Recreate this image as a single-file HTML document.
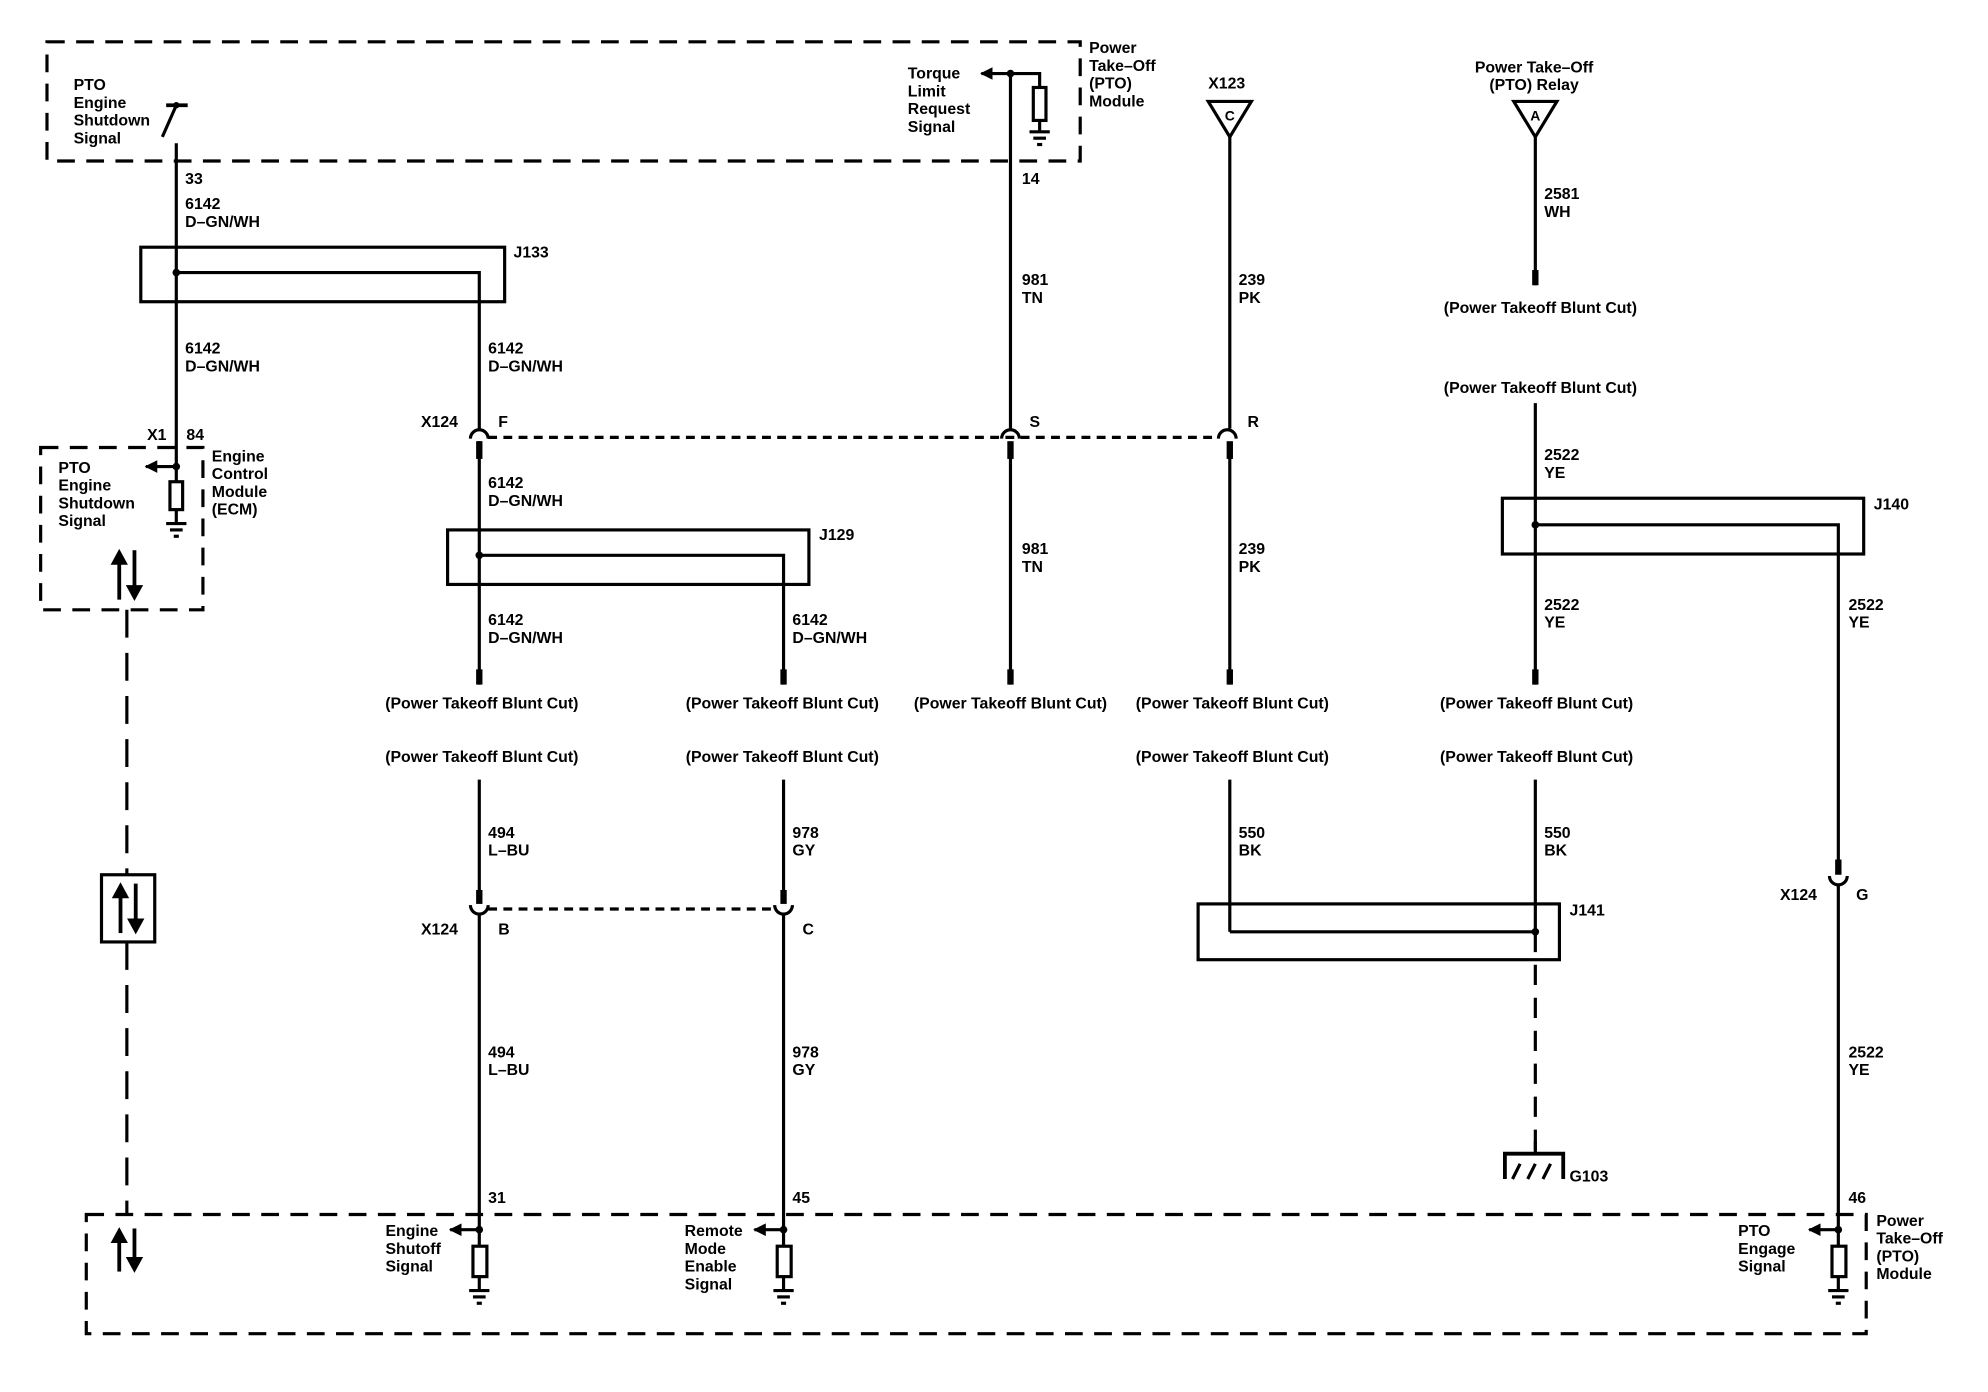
<!DOCTYPE html>
<html><head><meta charset="utf-8"><style>
html,body{margin:0;padding:0;background:#fff;}
svg{display:block;}
text{font-family:"Liberation Sans",Arial,sans-serif;font-size:12.5px;font-weight:bold;fill:#000;}
</style></head><body>
<svg width="1988" height="1392" viewBox="0 0 1568 1098" xmlns="http://www.w3.org/2000/svg">
<defs>
<marker id="ah" markerWidth="12" markerHeight="10" refX="9" refY="5" orient="auto" markerUnits="userSpaceOnUse"><path d="M0,0 L10,5 L0,10 Z" fill="#000"/></marker>
<g id="gnd" stroke="#000" stroke-width="2.5"><line x1="-8" y1="0" x2="8" y2="0"/><line x1="-5" y1="5" x2="5" y2="5"/><line x1="-2" y1="10" x2="2" y2="10"/></g>
</defs>
<g fill="none" stroke="#000" stroke-width="2.5">
<rect x="37" y="33" width="815" height="94" stroke-dasharray="14,9"/>
<rect x="32" y="353" width="128" height="128" stroke-dasharray="14,9"/>
<rect x="68" y="958" width="1404" height="94" stroke-dasharray="14,9"/>
<line x1="100" y1="481" x2="100" y2="690" stroke-dasharray="22,12"/>
<line x1="100" y1="743" x2="100" y2="958" stroke-dasharray="22,12"/>
<rect x="80" y="690" width="42" height="53"/>
<line x1="139" y1="113" x2="139" y2="380"/>
<line x1="131" y1="83" x2="148" y2="83" stroke-width="3"/>
<line x1="139" y1="83" x2="128" y2="108"/>
<rect x="111" y="195" width="287" height="43"/>
<polyline points="139,215 378,215 378,338"/>
<line x1="139" y1="368" x2="115" y2="368" marker-end="url(#ah)"/>
<rect x="134" y="380" width="10" height="22"/>
<line x1="139" y1="402" x2="139" y2="412"/>
<path d="M371,346 A7,7 0 0 1 385,346"/>
<path d="M790,346 A7,7 0 0 1 804,346"/>
<path d="M961,346 A7,7 0 0 1 975,346"/>
<line x1="385" y1="345" x2="961" y2="345" stroke-dasharray="7,5"/>
<line x1="378" y1="348" x2="378" y2="540"/>
<rect x="353" y="418" width="285" height="43"/>
<polyline points="378,438 618,438 618,540"/>
<line x1="797" y1="59" x2="797" y2="338"/>
<line x1="797" y1="350" x2="797" y2="540"/>
<line x1="797" y1="58" x2="774" y2="58" marker-end="url(#ah)"/>
<polyline points="797,58 820,58 820,69"/>
<rect x="815" y="69" width="10" height="26"/>
<line x1="820" y1="95" x2="820" y2="104"/>
<path d="M953,80 L987,80 L970,108 Z"/>
<line x1="970" y1="108" x2="970" y2="338"/>
<line x1="970" y1="350" x2="970" y2="540"/>
<path d="M1194,80 L1228,80 L1211,108 Z"/>
<line x1="1211" y1="108" x2="1211" y2="225"/>
<line x1="1211" y1="318" x2="1211" y2="540"/>
<rect x="1185" y="393" width="285" height="44"/>
<polyline points="1211,414 1450,414 1450,688"/>
<line x1="378" y1="615" x2="378" y2="712"/>
<line x1="618" y1="615" x2="618" y2="712"/>
<path d="M371,714 A7,7 0 0 0 385,714"/>
<path d="M611,714 A7,7 0 0 0 625,714"/>
<line x1="385" y1="717" x2="611" y2="717" stroke-dasharray="7,5"/>
<line x1="378" y1="721" x2="378" y2="983"/>
<line x1="618" y1="721" x2="618" y2="983"/>
<line x1="970" y1="615" x2="970" y2="735"/>
<line x1="1211" y1="615" x2="1211" y2="735"/>
<rect x="945" y="713" width="285" height="44"/>
<line x1="970" y1="735" x2="1211" y2="735"/>
<line x1="1211" y1="735" x2="1211" y2="908" stroke-dasharray="16,10"/>
<polyline points="1187,930 1187,910 1233,910 1233,930" stroke-width="3"/>
<line x1="1211" y1="900" x2="1211" y2="910"/>
<line x1="1193" y1="930" x2="1199" y2="918"/>
<line x1="1205" y1="930" x2="1211" y2="918"/>
<line x1="1217" y1="930" x2="1223" y2="918"/>
<path d="M1443,691 A7,7 0 0 0 1457,691"/>
<line x1="1450" y1="698" x2="1450" y2="983"/>
<line x1="378" y1="970" x2="355" y2="970" marker-end="url(#ah)"/>
<rect x="373" y="983" width="11" height="24"/><line x1="378" y1="1007" x2="378" y2="1018"/>
<line x1="618" y1="970" x2="595" y2="970" marker-end="url(#ah)"/>
<rect x="613" y="983" width="11" height="24"/><line x1="618" y1="1007" x2="618" y2="1018"/>
<line x1="1450" y1="970" x2="1427" y2="970" marker-end="url(#ah)"/>
<rect x="1445" y="983" width="11" height="24"/><line x1="1450" y1="1007" x2="1450" y2="1018"/>
</g>
<use href="#gnd" x="139" y="413"/><use href="#gnd" x="820" y="104"/>
<use href="#gnd" x="378" y="1018"/><use href="#gnd" x="618" y="1018"/><use href="#gnd" x="1450" y="1018"/>
<g stroke="#000" stroke-width="5">
<line x1="378" y1="348" x2="378" y2="362"/><line x1="797" y1="348" x2="797" y2="362"/><line x1="970" y1="348" x2="970" y2="362"/>
<line x1="378" y1="528" x2="378" y2="540"/><line x1="618" y1="528" x2="618" y2="540"/><line x1="797" y1="528" x2="797" y2="540"/><line x1="970" y1="528" x2="970" y2="540"/><line x1="1211" y1="528" x2="1211" y2="540"/>
<line x1="1211" y1="213" x2="1211" y2="225"/>
<line x1="378" y1="702" x2="378" y2="713"/><line x1="618" y1="702" x2="618" y2="713"/><line x1="1450" y1="678" x2="1450" y2="690"/>
</g>
<g fill="#000"><circle cx="139" cy="215" r="3"/><circle cx="378" cy="438" r="3"/><circle cx="1211" cy="414" r="3"/><circle cx="1211" cy="735" r="3"/><circle cx="797" cy="58" r="3"/><circle cx="139" cy="368" r="3"/><circle cx="378" cy="970" r="3"/><circle cx="618" cy="970" r="3"/><circle cx="1450" cy="970" r="3"/><circle cx="139" cy="83" r="2.5"/></g>
<g stroke="#000" stroke-width="3" fill="#000">
<line x1="94" y1="473" x2="94" y2="442"/><path d="M88,445 L94,434 L100,445Z" stroke-width="1"/>
<line x1="106" y1="434" x2="106" y2="465"/><path d="M100,462 L106,473 L112,462Z" stroke-width="1"/>
<line x1="95" y1="736" x2="95" y2="705"/><path d="M89,708 L95,697 L101,708Z" stroke-width="1"/>
<line x1="107" y1="697" x2="107" y2="728"/><path d="M101,725 L107,736 L113,725Z" stroke-width="1"/>
<line x1="94" y1="1003" x2="94" y2="977"/><path d="M88,980 L94,969 L100,980Z" stroke-width="1"/>
<line x1="106" y1="969" x2="106" y2="995"/><path d="M100,992 L106,1003 L112,992Z" stroke-width="1"/>
</g>
<text x="970" y="95" text-anchor="middle" style="font-size:11px">C</text><text x="1211" y="95" text-anchor="middle" style="font-size:11px">A</text>
<text x="58" y="71">PTO</text><text x="58" y="85">Engine</text><text x="58" y="99">Shutdown</text><text x="58" y="113">Signal</text>
<text x="859" y="42">Power</text><text x="859" y="56">Take–Off</text><text x="859" y="70">(PTO)</text><text x="859" y="84">Module</text>
<text x="716" y="62">Torque</text><text x="716" y="76">Limit</text><text x="716" y="90">Request</text><text x="716" y="104">Signal</text>
<text x="953" y="70">X123</text>
<text x="1210" y="57" text-anchor="middle">Power Take–Off</text><text x="1210" y="71" text-anchor="middle">(PTO) Relay</text>
<text x="146" y="145">33</text><text x="806" y="145">14</text>
<text x="146" y="165">6142</text><text x="146" y="179">D–GN/WH</text>
<text x="405" y="203">J133</text>
<text x="806" y="225">981</text><text x="806" y="239">TN</text>
<text x="977" y="225">239</text><text x="977" y="239">PK</text>
<text x="1218" y="157">2581</text><text x="1218" y="171">WH</text>
<text x="1215" y="247" text-anchor="middle">(Power Takeoff Blunt Cut)</text>
<text x="1215" y="310" text-anchor="middle">(Power Takeoff Blunt Cut)</text>
<text x="146" y="279">6142</text><text x="146" y="293">D–GN/WH</text>
<text x="385" y="279">6142</text><text x="385" y="293">D–GN/WH</text>
<text x="116" y="347">X1</text><text x="147" y="347">84</text>
<text x="332" y="337">X124</text><text x="393" y="337">F</text><text x="812" y="337">S</text><text x="984" y="337">R</text>
<text x="46" y="373">PTO</text><text x="46" y="387">Engine</text><text x="46" y="401">Shutdown</text><text x="46" y="415">Signal</text>
<text x="167" y="364">Engine</text><text x="167" y="378">Control</text><text x="167" y="392">Module</text><text x="167" y="406">(ECM)</text>
<text x="1218" y="363">2522</text><text x="1218" y="377">YE</text>
<text x="1478" y="402">J140</text>
<text x="385" y="385">6142</text><text x="385" y="399">D–GN/WH</text>
<text x="646" y="426">J129</text>
<text x="806" y="437">981</text><text x="806" y="451">TN</text>
<text x="977" y="437">239</text><text x="977" y="451">PK</text>
<text x="1218" y="481">2522</text><text x="1218" y="495">YE</text>
<text x="1458" y="481">2522</text><text x="1458" y="495">YE</text>
<text x="385" y="493">6142</text><text x="385" y="507">D–GN/WH</text>
<text x="625" y="493">6142</text><text x="625" y="507">D–GN/WH</text>
<text x="380" y="559" text-anchor="middle">(Power Takeoff Blunt Cut)</text>
<text x="617" y="559" text-anchor="middle">(Power Takeoff Blunt Cut)</text>
<text x="797" y="559" text-anchor="middle">(Power Takeoff Blunt Cut)</text>
<text x="972" y="559" text-anchor="middle">(Power Takeoff Blunt Cut)</text>
<text x="1212" y="559" text-anchor="middle">(Power Takeoff Blunt Cut)</text>
<text x="380" y="601" text-anchor="middle">(Power Takeoff Blunt Cut)</text>
<text x="617" y="601" text-anchor="middle">(Power Takeoff Blunt Cut)</text>
<text x="972" y="601" text-anchor="middle">(Power Takeoff Blunt Cut)</text>
<text x="1212" y="601" text-anchor="middle">(Power Takeoff Blunt Cut)</text>
<text x="385" y="661">494</text><text x="385" y="675">L–BU</text>
<text x="625" y="661">978</text><text x="625" y="675">GY</text>
<text x="977" y="661">550</text><text x="977" y="675">BK</text>
<text x="1218" y="661">550</text><text x="1218" y="675">BK</text>
<text x="1404" y="710">X124</text><text x="1464" y="710">G</text>
<text x="1238" y="722">J141</text>
<text x="332" y="737">X124</text><text x="393" y="737">B</text><text x="633" y="737">C</text>
<text x="385" y="834">494</text><text x="385" y="848">L–BU</text>
<text x="625" y="834">978</text><text x="625" y="848">GY</text>
<text x="1458" y="834">2522</text><text x="1458" y="848">YE</text>
<text x="1238" y="932">G103</text>
<text x="385" y="949">31</text><text x="625" y="949">45</text><text x="1458" y="949">46</text>
<text x="304" y="975">Engine</text><text x="304" y="989">Shutoff</text><text x="304" y="1003">Signal</text>
<text x="540" y="975">Remote</text><text x="540" y="989">Mode</text><text x="540" y="1003">Enable</text><text x="540" y="1017">Signal</text>
<text x="1371" y="975">PTO</text><text x="1371" y="989">Engage</text><text x="1371" y="1003">Signal</text>
<text x="1480" y="967">Power</text><text x="1480" y="981">Take–Off</text><text x="1480" y="995">(PTO)</text><text x="1480" y="1009">Module</text>
</svg>
</body></html>
